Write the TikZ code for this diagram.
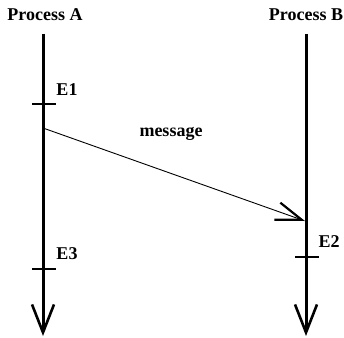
\documentclass[tikz,border=0pt]{standalone}
\usepackage{fontspec}
\setmainfont{Liberation Serif}
\usetikzlibrary{arrows.meta}
\begin{document}
\begin{tikzpicture}[x=1pt,y=-1pt,
  lbl/.style={font=\bfseries\fontsize{18}{20}\selectfont, inner sep=0pt},
  procline/.style={line width=3pt, -{Straight Barb[length=28pt,width=22pt,line width=2.6pt]}},
  tick/.style={line width=2pt},
  msg/.style={line width=0.9pt, -{Straight Barb[length=26pt,width=18pt,line width=2.2pt]}}]
\useasboundingbox (0,0) rectangle (344,337);
\node[lbl] (pa) at (45,15) {Process A};
\node[lbl] (pb) at (306,15) {Process B};
\coordinate (atop) at (43,34);
\coordinate (abot) at (43,336);
\coordinate (btop) at (306,34);
\coordinate (bbot) at (306,336);
\draw[procline] (atop) -- (abot);
\draw[procline] (btop) -- (bbot);
% events
\coordinate (e1l) at (32,104); \coordinate (e1r) at (56,104);
\coordinate (e3l) at (32,269); \coordinate (e3r) at (56,269);
\coordinate (e2l) at (295,257); \coordinate (e2r) at (319,257);
\draw[tick] (e1l) -- (e1r);
\draw[tick] (e3l) -- (e3r);
\draw[tick] (e2l) -- (e2r);
\node[lbl] (e1) at (67,90) {E1};
\node[lbl] (e3) at (67,254) {E3};
\node[lbl] (e2) at (329,242) {E2};
\coordinate (ms) at (43,128);
\coordinate (me) at (305,221);
\draw[msg] (ms) -- (me);
\node[lbl] (m) at (171,134) {message};
\end{tikzpicture}
\end{document}
